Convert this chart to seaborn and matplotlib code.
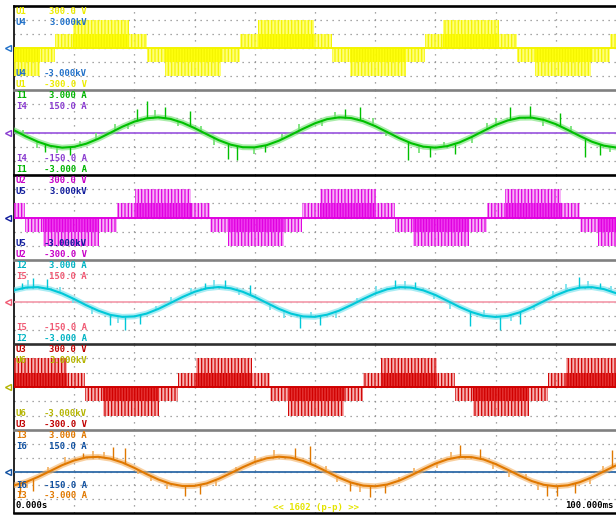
import numpy as np
import matplotlib
matplotlib.use('Agg')
import matplotlib.pyplot as plt
import seaborn as sns

sns.set_style('white')
plt.rcParams['font.family'] = ['DejaVu Sans Mono']
plt.rcParams['hatch.linewidth'] = 0.9

# ------------------------------------------------------------
# data, time in ms (10 ms / div, 100 ms record)
# ------------------------------------------------------------
t_cur = np.arange(0, 101, 2)

# phase currents (A), read every 2 ms
i1 = [0.16, -0.28, -0.66, -0.94, -1.07, -1.01, -0.79, -0.44, -0.02, 0.41,
      0.77, 1.00, 1.07, 0.96, 0.69, 0.31, -0.12, -0.54, -0.86, -1.04,
      -1.05, -0.89, -0.58, -0.17, 0.26, 0.65, 0.94, 1.07, 1.02, 0.80,
      0.45, 0.03, -0.40, -0.76, -1.00, -1.07, -0.96, -0.70, -0.32, 0.11,
      0.53, 0.85, 1.04, 1.05, 0.89, 0.59, 0.18, -0.25, -0.65, -0.93, -1.06]
i2 = [0.84, 1.03, 1.06, 0.91, 0.61, 0.21, -0.23, -0.62, -0.92, -1.06,
      -1.03, -0.83, -0.49, -0.07, 0.36, 0.73, 0.98, 1.07, 0.98, 0.73,
      0.36, -0.07, -0.49, -0.83, -1.03, -1.06, -0.91, -0.62, -0.22, 0.21,
      0.61, 0.91, 1.06, 1.03, 0.83, 0.50, 0.08, -0.35, -0.72, -0.98,
      -1.07, -0.99, -0.74, -0.37, 0.06, 0.48, 0.82, 1.03, 1.06, 0.92, 0.63]
i3 = [-1.00, -0.76, -0.39, 0.03, 0.46, 0.80, 1.02, 1.06, 0.93, 0.65,
      0.26, -0.18, -0.58, -0.89, -1.05, -1.04, -0.86, -0.53, -0.12, 0.31,
      0.69, 0.96, 1.07, 1.00, 0.77, 0.41, -0.02, -0.45, -0.80, -1.02,
      -1.07, -0.94, -0.66, -0.27, 0.16, 0.57, 0.88, 1.05, 1.04, 0.87,
      0.54, 0.13, -0.30, -0.69, -0.96, -1.07, -1.00, -0.77, -0.42, 0.01, 0.44]

# large noise spikes on the currents: time (ms) and tip value (A)
i1_spk_t = [5.1, 9.3, 20.4, 22.1, 25.1, 29.2, 35.5, 37.0, 41.7, 55.0,
            57.5, 65.4, 69.1, 73.3, 82.4, 85.7, 90.7, 94.9, 97.3]
i1_spk_y = [-1.36, -1.57, 1.64, 2.20, 1.80, 1.50, -1.86, -1.93, -1.36, 1.64,
            1.80, -1.93, -1.70, -1.50, 1.80, 1.86, 1.36, -1.70, -1.57]
i2_spk_t = [1.3, 3.2, 5.5, 15.9, 18.4, 20.9, 31.7, 35.0, 39.2, 47.5,
            50.8, 63.3, 66.6, 75.7, 80.7, 84.1, 93.9, 97.3]
i2_spk_y = [1.36, 1.71, 1.64, -1.64, -2.00, -1.57, 1.36, 1.57, 1.20, -1.86,
            -1.64, 1.57, 1.43, -1.71, -2.00, -1.57, 1.79, 1.36]
i3_spk_t = [1.0, 3.2, 11.5, 16.4, 18.4, 28.4, 30.9, 46.7, 49.2, 55.8,
            59.1, 61.6, 74.1, 77.4, 88.5, 90.2, 93.2, 99.3]
i3_spk_y = [-1.64, -1.43, 1.36, 1.79, 1.71, -1.79, -1.64, 1.71, 1.86, -1.43,
            -1.86, -1.57, 1.93, 1.64, -1.79, -1.79, -1.57, 1.57]

# small noise spikes: time (ms) and height above/below the trace (A)
i1_nz_t = [1.5, 3.8, 7.2, 11.0, 13.6, 16.8, 18.9, 23.5, 27.3, 31.1, 33.2,
           39.8, 44.6, 47.3, 51.2, 53.4, 59.6, 61.8, 67.2, 71.4, 76.0, 78.5,
           80.1, 87.9, 92.6, 99.0]
i1_nz_d = [0.35, -0.45, -0.40, 0.30, 0.50, 0.45, -0.30, 0.55, -0.35, 0.40,
           -0.50, -0.45, 0.35, 0.50, -0.40, 0.45, 0.50, -0.30, -0.55, 0.35,
           -0.40, 0.45, 0.50, -0.45, 0.40, -0.35]
i2_nz_t = [2.4, 7.6, 9.8, 12.9, 17.2, 23.6, 26.0, 29.4, 33.2, 37.4, 42.5,
           44.8, 49.3, 53.5, 56.9, 60.2, 65.0, 69.8, 72.4, 78.1, 82.6, 86.3,
           89.5, 91.7, 95.4, 99.1]
i2_nz_d = [0.50, 0.40, -0.35, -0.45, -0.50, 0.30, 0.45, 0.40, 0.55, -0.30,
           -0.40, -0.50, 0.35, -0.45, 0.30, 0.50, 0.45, -0.35, -0.50, 0.40,
           -0.45, -0.30, 0.40, 0.50, 0.45, 0.35]
i3_nz_t = [2.1, 5.6, 8.4, 13.2, 15.0, 20.6, 22.7, 25.4, 33.6, 36.8, 40.1,
           43.2, 51.8, 53.6, 57.4, 63.9, 66.5, 70.2, 72.6, 79.6, 82.3, 85.1,
           87.0, 95.6, 97.8]
i3_nz_d = [-0.45, 0.35, 0.50, 0.45, 0.40, -0.30, -0.35, -0.50, -0.45, 0.30,
           0.40, 0.50, 0.35, -0.40, -0.50, 0.30, 0.45, -0.35, 0.50, -0.40,
           -0.45, 0.30, -0.50, -0.40, 0.45]

# PWM phase voltages: segment edges (ms) and level (V) reached in each segment
u1_edges = [0, 4.3, 6.8, 9.8, 19.1, 22.1, 25.1, 34.4, 37.5, 40.5, 49.8,
            52.8, 55.8, 65.1, 68.3, 71.3, 80.6, 83.6, 86.5, 95.8, 99.0, 100]
u1_level = [-200, -100, 100, 200, 100, -100, -200, -100, 100, 200, 100,
            -100, -200, -100, 100, 200, 100, -100, -200, -100, 100]
u2_edges = [0, 1.8, 4.8, 14.1, 17.1, 20.1, 29.4, 32.6, 35.5, 44.9, 47.8,
            50.8, 60.1, 63.3, 66.3, 75.6, 78.6, 81.6, 90.9, 94.0, 97.0, 100]
u2_level = [100, -100, -200, -100, 100, 200, 100, -100, -200, -100, 100,
            200, 100, -100, -200, -100, 100, 200, 100, -100, -200]
u3_edges = [0, 8.8, 11.8, 14.8, 24.1, 27.2, 30.2, 39.5, 42.5, 45.5, 54.8,
            58.0, 61.0, 70.3, 73.3, 76.2, 85.5, 88.7, 91.7, 100]
u3_level = [200, 100, -100, -200, -100, 100, 200, 100, -100, -200, -100,
            100, 200, 100, -100, -200, -100, 100, 200]

ch_a = ['U1', 'I1', 'U2', 'I2', 'U3', 'I3']
ch_b = ['U4', 'I4', 'U5', 'I5', 'U6', 'I6']
rng_a = ['300.0', '3.000', '300.0', '3.000', '300.0', '3.000']
unit_a = [' V', ' A', ' V', ' A', ' V', ' A']
rng_b = ['3.000', '150.0', '3.000', '150.0', '3.000', '150.0']
unit_b = ['kV', ' A', 'kV', ' A', 'kV', ' A']

col_a = ['#ecec00', '#00b400', '#c800c8', '#00b4c4', '#c00000', '#e07800']
col_b = ['#2070c8', '#8a3cd0', '#101c9c', '#f05a74', '#b4b400', '#1050a0']

# ------------------------------------------------------------
W, H = 616, 518
fig = plt.figure(figsize=(W / 100, H / 100), dpi=100)
panel_px = [6, 90, 175, 260, 344, 430, 513]
x0, x1 = 14, 616
sep_col = ['black', '#808080', 'black', '#808080', '#303030', '#808080']


def draw_pwm(ax, edges, levels, c_dark, c_mid, c_light):
    for a, b, lv in zip(edges[:-1], edges[1:], levels):
        s = np.sign(lv)
        if abs(lv) > 100:
            ax.fill_between([a, b], 0, s * 100, facecolor=c_mid, edgecolor=c_dark,
                            hatch='||||||', lw=0, zorder=3)
            ax.fill_between([a, b], s * 100, lv, facecolor=c_light, edgecolor=c_dark,
                            hatch='|||||', lw=0, zorder=3)
        else:
            ax.fill_between([a, b], 0, lv, facecolor=c_light, edgecolor=c_dark,
                            hatch='|||||', lw=0, zorder=3)
    ax.axhline(0, color=c_dark, lw=1.4, zorder=4)


def draw_current(ax, vals, spk_t, spk_y, nz_t, nz_d, c_line, c_halo):
    sns.lineplot(x=t_cur, y=vals, ax=ax, color=c_halo, lw=4.2, alpha=0.6, zorder=4)
    base = np.interp(nz_t, t_cur, vals)
    ax.vlines(nz_t, base, base + np.array(nz_d), color=c_halo, lw=1.2, zorder=5)
    base = np.interp(spk_t, t_cur, vals)
    ax.vlines(spk_t, base, spk_y, color=c_line, lw=1.0, zorder=5)
    sns.lineplot(x=t_cur, y=vals, ax=ax, color=c_line, lw=1.5, zorder=6)


pwm = [(u1_edges, u1_level, '#f4f400', (1, 1, 0.0, 0.95), (1, 1, 0.25, 0.7)),
       (u2_edges, u2_level, '#e000e0', (0.92, 0.1, 0.92, 0.85), (0.95, 0.45, 0.95, 0.55)),
       (u3_edges, u3_level, '#d00000', (0.88, 0.05, 0.05, 0.85), (0.95, 0.45, 0.45, 0.55))]
cur = [(i1, i1_spk_t, i1_spk_y, i1_nz_t, i1_nz_d, '#00c000', '#70e070'),
       (i2, i2_spk_t, i2_spk_y, i2_nz_t, i2_nz_d, '#00c8d8', '#70e0ec'),
       (i3, i3_spk_t, i3_spk_y, i3_nz_t, i3_nz_d, '#e07800', '#f4b060')]
ref_line = [None, '#a060e0', None, '#f4a0b0', None, '#2e6aa8']

for i in range(6):
    top, bot = panel_px[i], panel_px[i + 1]
    ax = fig.add_axes([x0 / W, 1 - bot / H, (x1 - x0) / W, (bot - top) / H])
    scale = 100 if i % 2 == 0 else 1
    ax.set_xlim(0, 100)
    ax.set_ylim(-3 * scale, 3 * scale)
    ax.set_xticks([])
    ax.set_yticks([])
    for sp in ['right', 'bottom']:
        ax.spines[sp].set_visible(False)
    ax.spines['left'].set_color('black')
    ax.spines['left'].set_linewidth(1.2)
    ax.spines['top'].set_color(sep_col[i])
    ax.spines['top'].set_linewidth(1.9)
    if i == 5:
        ax.spines['bottom'].set_visible(True)
        ax.spines['bottom'].set_color('black')
        ax.spines['bottom'].set_linewidth(1.8)

    # graticule
    for yv in [-2, -1, 0, 1, 2]:
        ax.axhline(yv * scale, color='#8a8a8a', lw=0.9, ls=(0, (1, 3.8)), zorder=1)
    for xv in range(10, 100, 10):
        ax.axvline(xv, color='#8a8a8a', lw=0.9, ls=(0, (1, 4.6)), zorder=1)

    if i % 2 == 0:
        e, lv, cd, cm, cl = pwm[i // 2]
        draw_pwm(ax, e, lv, cd, cm, cl)
    else:
        v, st, sy, nt, nd, cl, ch = cur[i // 2]
        ax.axhline(0, color=ref_line[i], lw=1.3, zorder=3)
        draw_current(ax, v, st, sy, nt, nd, cl, ch)

    # ground marker of the second channel
    ax.plot([-1.0], [0], marker='<', mfc='none', mec=col_b[i], mew=1.0, ms=5,
            clip_on=False, zorder=7)

    # channel range labels
    if i < 5:
        rows = [top + 5.5, top + 16.5, bot - 17, bot - 5.5]
    else:
        rows = [top + 5.5, top + 16.5, bot - 28, bot - 17]
    labels = [(ch_a[i], rng_a[i] + unit_a[i], col_a[i]),
              (ch_b[i], rng_b[i] + unit_b[i], col_b[i]),
              (ch_b[i], '-' + rng_b[i] + unit_b[i], col_b[i]),
              (ch_a[i], '-' + rng_a[i] + unit_a[i], col_a[i])]
    for y, (name, val, c) in zip(rows, labels):
        fig.text(16 / W, 1 - y / H, name, color=c, fontsize=6.5, fontweight='bold',
                 ha='left', va='center')
        fig.text(87 / W, 1 - y / H, val, color=c, fontsize=6.5, fontweight='bold',
                 ha='right', va='center')

# time axis annotations
fig.text(16 / W, 1 - 506 / H, '0.000s', color='black', fontsize=6.5, fontweight='bold',
         ha='left', va='center')
fig.text(613 / W, 1 - 506 / H, '100.000ms', color='black', fontsize=6.5, fontweight='bold',
         ha='right', va='center')
fig.text(316 / W, 1 - 507 / H, '<< 1602 (p-p) >>', color='#e4e400', fontsize=6.5,
         fontweight='bold', ha='center', va='center')

fig.savefig('out.png', dpi=100, facecolor='white')
